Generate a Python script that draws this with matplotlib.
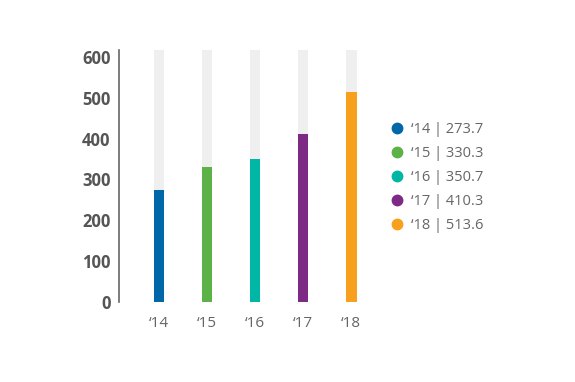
import matplotlib
matplotlib.use("Agg")
from matplotlib import pyplot as plt
from matplotlib.lines import Line2D

years = ["\u201814", "\u201815", "\u201816", "\u201817", "\u201818"]
values = [273.7, 330.3, 350.7, 410.3, 513.6]
colors = ["#0068a9", "#5cb247", "#00b7a6", "#7d2a87", "#f8a01d"]
yticks = [0, 100, 200, 300, 400, 500, 600]
ymax = 617

plt.rcParams['font.family'] = ['Open Sans', 'DejaVu Sans']

fig = plt.figure(figsize=(5.75, 3.82), dpi=100)
ax = fig.add_axes([119/575, 1-302/382, 251/575, 252/382])

x = list(range(len(values)))
ax.bar(x, [ymax]*len(x), width=0.22, color="#efefef", zorder=1)
ax.bar(x, values, width=0.22, color=colors, zorder=2)

ax.set_xlim(-0.83, 4.39)
ax.set_ylim(0, ymax)
ax.set_yticks(yticks)
ax.set_yticklabels([str(v) for v in yticks], fontsize=12, fontweight="bold", color="#555555")
ax.set_xticks(x)
ax.set_xticklabels(years, fontsize=11, color="#666666")
ax.tick_params(axis="y", length=0, pad=6)
ax.tick_params(axis="x", length=0, pad=10)
for s in ["top", "right", "bottom"]:
    ax.spines[s].set_visible(False)
ax.spines["left"].set_color("#666666")
ax.spines["left"].set_linewidth(1.2)

handles = [Line2D([], [], marker="o", linestyle="", markersize=7.5, color=c) for c in colors]
labels = ["%s | %.1f" % (y, v) for y, v in zip(years, values)]
leg = fig.legend(handles, labels, loc="upper left", bbox_to_anchor=(381/575, 1-115/382),
                 frameon=False, fontsize=10.5, labelspacing=0.61, handletextpad=0.35,
                 handlelength=1.2, borderpad=0)
for t in leg.get_texts():
    t.set_color("#666666")

fig.savefig("out.png", dpi=100)
